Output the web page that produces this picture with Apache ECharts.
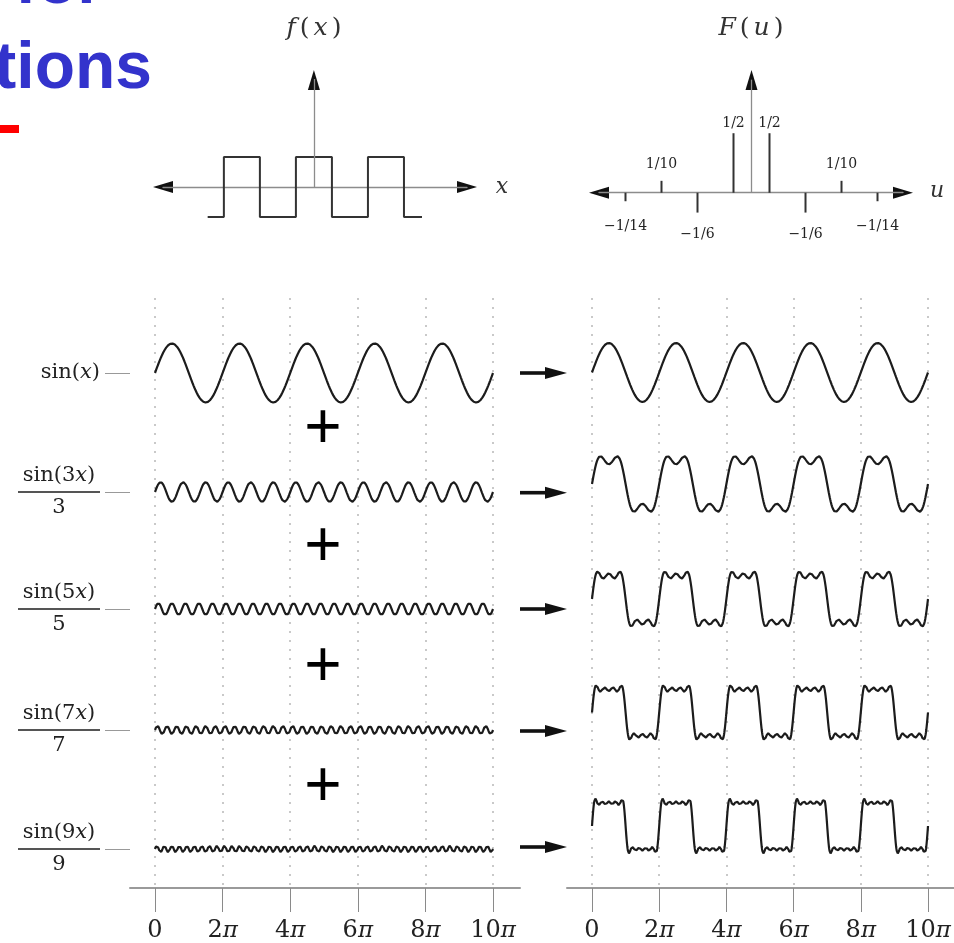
<!DOCTYPE html>
<html>
<head>
<meta charset="utf-8">
<script src="https://cdn.jsdelivr.net/npm/echarts@6/dist/echarts.min.js"></script>
<style>
  html, body { margin: 0; padding: 0; background: #fff; }
  #main { width: 954px; height: 943px; }
</style>
</head>
<body>
<div id="main"></div>
<script>
// Odd harmonics of the square wave, one row each: sin(kx)/k
const harmonics = [1, 3, 5, 7, 9];
// Tick values along the x axes, in multiples of pi
const xTicks = [0, 2, 4, 6, 8, 10];
// Square wave f(x): corner points
const squareX = [-2.95, -2.5, -2.5, -1.5, -1.5, -0.5, -0.5, 0.5, 0.5, 1.5, 1.5, 2.5, 2.5, 3.0];
const squareY = [-1, -1, 1, 1, -1, -1, 1, 1, -1, -1, 1, 1, -1, -1];
// Spectrum F(u): frequency, amplitude = sign / den
const specU = [-3.5, -2.5, -1.5, -0.5, 0.5, 1.5, 2.5, 3.5];
const specDen = [14, 10, 6, 2, 2, 6, 10, 14];
const specSign = [-1, 1, -1, 1, 1, -1, 1, -1];

const chart = echarts.init(document.getElementById('main'));

const SERIF = "'DejaVu Serif', 'Liberation Serif', serif";
const UNIT = 29.5;                       // pixels per unit of amplitude in the rows
const leftCenters = [373, 492, 609, 730, 849];
const rightCenters = [372.5, 484, 599, 712.5, 826];

const grid = [], xAxis = [], yAxis = [], series = [];
function addGrid(g, xa, ya) {
  grid.push(g);
  const i = grid.length - 1;
  xAxis.push(Object.assign({ gridIndex: i }, xa));
  yAxis.push(Object.assign({ gridIndex: i }, ya));
  return i;
}
const hidden = (min, max) => ({ type: 'value', show: false, min: min, max: max });

const AXIS_GRAY = '#8c8c8c';
const plainAxis = (min, max) => ({
  type: 'value', min: min, max: max,
  axisLine: { show: true, onZero: true, lineStyle: { color: AXIS_GRAY, width: 1.3 } },
  axisTick: { show: false }, axisLabel: { show: false }, splitLine: { show: false }
});
const upAxis = (top) => ({
  silent: true, animation: false, symbol: ['none', 'none'],
  lineStyle: { color: AXIS_GRAY, width: 1.3, type: 'solid' }, label: { show: false },
  data: [[{ coord: [0, 0] }, { coord: [0, top] }]]
});

// ---------- f(x): square wave ----------
const gF = addGrid({ left: 163, top: 70, width: 304, height: 162 },
  plainAxis(-4.19, 4.25), hidden(-1.5, 3.9));
series.push({
  type: 'line', xAxisIndex: gF, yAxisIndex: gF, showSymbol: false, silent: true,
  data: squareX.map((x, i) => [x, squareY[i]]),
  lineStyle: { color: '#333', width: 2 },
  markLine: upAxis(3.6)
});

// ---------- F(u): line spectrum ----------
const gS = addGrid({ left: 599, top: 70, width: 304, height: 164.4 },
  plainAxis(-4.236, 4.208), hidden(-0.35, 1.031));
const labelGap = { 2: 3, 6: 15, 10: 9, 14: 18 };
series.push({
  type: 'bar', xAxisIndex: gS, yAxisIndex: gS, barWidth: 2, silent: true,
  itemStyle: { color: '#333' },
  data: specU.map((u, i) => ({
    value: [u, specSign[i] / specDen[i]],
    label: {
      show: true, position: specSign[i] > 0 ? 'top' : 'bottom', distance: labelGap[specDen[i]],
      formatter: () => (specSign[i] < 0 ? '\u22121/' : '1/') + specDen[i],
      fontFamily: SERIF, fontSize: 14, color: '#222'
    }
  })),
  markLine: upAxis(0.95)
});

// ---------- main panels: dotted grid, ticks and labels ----------
function panelAxis() {
  return {
    type: 'value', min: 0, max: 10, interval: 2,
    axisLine: { show: false },
    axisTick: { show: true, length: 24, lineStyle: { color: '#8a8a8a', width: 1 } },
    axisLabel: {
      margin: 31,
      formatter: v => v === 0 ? '{n|0}' : '{n|' + v + '}{p|\u03c0}',
      rich: {
        n: { fontFamily: SERIF, fontSize: 24, color: '#222' },
        p: { fontFamily: SERIF, fontStyle: 'italic', fontSize: 23, color: '#222' }
      }
    },
    splitLine: { show: true, lineStyle: { color: '#b8b8b8', width: 1.5, type: [2, 7] } }
  };
}
addGrid({ left: 155, top: 298, width: 338, height: 590 }, panelAxis(), hidden(0, 1));
addGrid({ left: 592, top: 298, width: 336, height: 590 }, panelAxis(), hidden(0, 1));

// extended baselines under each panel
const baseLine = {
  type: 'value', min: 0, max: 1,
  axisLine: { show: true, lineStyle: { color: '#9a9a9a', width: 2 } },
  axisTick: { show: false }, axisLabel: { show: false }, splitLine: { show: false }
};
addGrid({ left: 130, top: 298, width: 390, height: 590 }, baseLine, hidden(0, 1));
addGrid({ left: 567, top: 298, width: 400, height: 590 }, baseLine, hidden(0, 1));

// sample positions along 0 .. 10 pi
const xs = [];
for (let i = 0; i <= 2000; i++) xs.push(i * 0.005);

const rowRich = {
  t: { fontFamily: SERIF, fontSize: 21, lineHeight: 24, color: '#222', align: 'center' },
  i: { fontFamily: SERIF, fontStyle: 'italic', fontSize: 21, lineHeight: 24, color: '#222', align: 'center' },
  bar: { width: 82, height: 2, lineHeight: 8, backgroundColor: '#555', align: 'center' }
};
function rowLabel(k) {
  if (k === 1) return '{t|sin(}{i|x}{t|)}';
  return '{t|sin(' + k + '}{i|x}{t|)}\n{bar|}\n{t|' + k + '}';
}

const curveStyle = { color: '#1c1c1c', width: 2.2 };

harmonics.forEach((k, r) => {
  const c = leftCenters[r];
  const top = c - 1.2 * UNIT, height = 2.4 * UNIT;

  // zero mark to the left of each row
  addGrid({ left: 130, top: top, width: 25, height: height }, hidden(0, 1), {
    type: 'value', min: -1.2, max: 1.2,
    axisLine: { show: false }, splitLine: { show: false }, axisLabel: { show: false },
    axisTick: { show: true, inside: false, length: 25, customValues: [0], lineStyle: { color: '#999', width: 1 } }
  });

  // single harmonic, left panel
  const gl = addGrid({ left: 155, top: top, width: 338, height: height },
    hidden(0, 10),
    {
      type: 'value', min: -1.2, max: 1.2,
      axisLine: { show: false }, splitLine: { show: false }, axisTick: { show: false },
      axisLabel: { show: true, customValues: [0], margin: 55, formatter: () => rowLabel(k), rich: rowRich }
    });
  series.push({
    type: 'line', xAxisIndex: gl, yAxisIndex: gl, showSymbol: false, silent: true,
    data: xs.map(x => [x, Math.sin(k * Math.PI * x) / k]),
    lineStyle: curveStyle
  });

  // running sum of harmonics up to k, right panel
  const cr = rightCenters[r];
  const gr = addGrid({ left: 592, top: cr - 1.2 * UNIT, width: 336, height: height },
    hidden(0, 10), hidden(-1.2, 1.2));
  const used = harmonics.slice(0, r + 1);
  series.push({
    type: 'line', xAxisIndex: gr, yAxisIndex: gr, showSymbol: false, silent: true,
    data: xs.map(x => [x, used.reduce((s, h) => s + Math.sin(h * Math.PI * x) / h, 0)]),
    lineStyle: curveStyle
  });
});

// ---------- decorations ----------
const BLUE_FONT = "bold 66px 'Liberation Sans', Arial, sans-serif";
const graphic = [
  { type: 'text', x: 103, y: -15, style: { text: 'for', font: BLUE_FONT, fill: '#3333cc', align: 'right', verticalAlign: 'middle' } },
  { type: 'text', x: 152, y: 70, style: { text: 'tions', font: BLUE_FONT, fill: '#3333cc', align: 'right', verticalAlign: 'middle' } },
  { type: 'rect', shape: { x: 0, y: 125, width: 19, height: 8 }, style: { fill: '#ff0000' } },
  { type: 'text', x: 314, y: 28, style: { text: '{i|f}{r|(}{i|x}{r|)}', align: 'center', verticalAlign: 'middle',
      rich: { i: { fontFamily: SERIF, fontStyle: 'italic', fontSize: 25, fill: '#333', padding: [0, 2] }, r: { fontFamily: SERIF, fontSize: 25, fill: '#333', padding: [0, 2] } } } },
  { type: 'text', x: 502, y: 187, style: { text: 'x', font: "italic 22px " + SERIF, fill: '#333', align: 'center', verticalAlign: 'middle' } },
  { type: 'text', x: 751, y: 28, style: { text: '{i|F}{r|(}{i|u}{r|)}', align: 'center', verticalAlign: 'middle',
      rich: { i: { fontFamily: SERIF, fontStyle: 'italic', fontSize: 25, fill: '#333', padding: [0, 2] }, r: { fontFamily: SERIF, fontSize: 25, fill: '#333', padding: [0, 2] } } } },
  { type: 'text', x: 937, y: 191, style: { text: 'u', font: "italic 22px " + SERIF, fill: '#333', align: 'center', verticalAlign: 'middle' } }
];
// arrowheads on the small f(x) and F(u) axes
function head(tip, dir) {
  const [x, y] = tip, L = 20, W = 6;
  const pts = dir === 'left' ? [[x, y], [x + L, y - W], [x + L, y + W]]
            : dir === 'right' ? [[x, y], [x - L, y - W], [x - L, y + W]]
            : [[x, y], [x - W, y + L], [x + W, y + L]];
  return { type: 'polygon', shape: { points: pts }, style: { fill: '#111' } };
}
graphic.push(head([153, 187], 'left'), head([477, 187], 'right'), head([313.9, 70], 'up'));
graphic.push(head([589, 192.7], 'left'), head([913, 192.7], 'right'), head([751.5, 70], 'up'));

[430, 548, 668, 788].forEach(y => {
  graphic.push({ type: 'text', x: 323, y: y, style: { text: '+', font: "64px 'Liberation Sans', Arial, sans-serif", fill: '#000', align: 'center', verticalAlign: 'middle' } });
});
[373, 492.7, 609, 731, 847].forEach(y => {
  graphic.push({ type: 'rect', shape: { x: 520, y: y - 1.8, width: 27, height: 3.6 }, style: { fill: '#111' } });
  graphic.push({ type: 'polygon', shape: { points: [[545, y - 6], [567, y], [545, y + 6]] }, style: { fill: '#111' } });
});

chart.setOption({
  animation: false,
  backgroundColor: '#fff',
  grid: grid, xAxis: xAxis, yAxis: yAxis, series: series,
  graphic: graphic
});
</script>
</body>
</html>
